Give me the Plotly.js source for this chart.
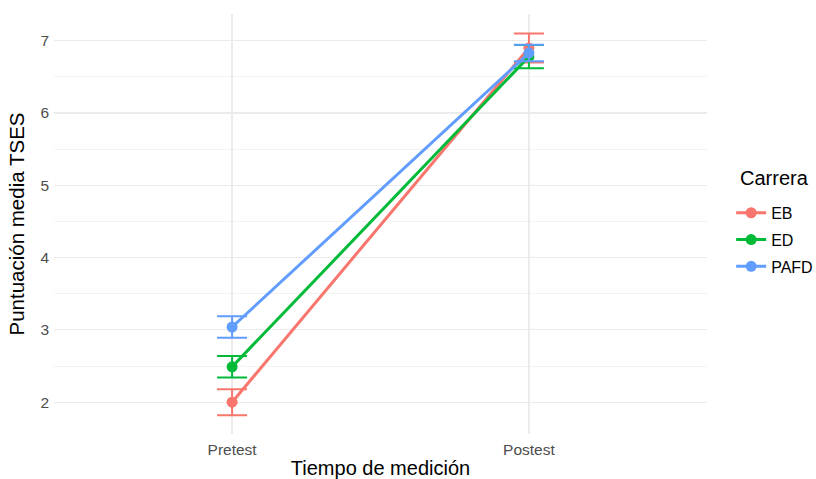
<!DOCTYPE html>
<html>
<head>
<meta charset="utf-8">
<script src="https://cdn.plot.ly/plotly-3.0.1.min.js"></script>
<style>html,body{margin:0;padding:0;background:#fff;}#chart{width:816px;height:479px;}</style>
</head>
<body>
<div id="chart"></div>
<script>
var tiempos = ["Pretest", "Postest"];
var grupos = ["EB", "ED", "PAFD"];
var medias = {
  EB:   [2.00, 6.90],
  ED:   [2.49, 6.78],
  PAFD: [3.04, 6.83]
};
var errores = {
  EB:   [0.18, 0.20],
  ED:   [0.15, 0.16],
  PAFD: [0.15, 0.115]
};
var colores = ["#F8766D", "#00BA38", "#619CFF"];

var traces = grupos.map(function(g, i) {
  return {
    type: "scatter",
    mode: "lines+markers",
    name: g,
    legendgroup: g,
    x: tiempos.map(function(t, k){ return k; }),
    y: medias[g],
    line: {color: colores[i], width: 3},
    marker: {color: colores[i], size: 11},
    error_y: {type: "data", array: errores[g], visible: true, color: colores[i], thickness: 2, width: 15}
  };
});

var layout = {
  width: 816, height: 479,
  margin: {l: 54, r: 109, t: 14, b: 45, autoexpand: false},
  paper_bgcolor: "#fff", plot_bgcolor: "#fff",
  font: {family: "Liberation Sans, Arial, sans-serif"},
  xaxis: {
    range: [-0.6, 1.6],
    tickvals: [0, 1], ticktext: tiempos,
    showgrid: true, gridcolor: "#EBEBEB", gridwidth: 1.2,
    zeroline: false, showline: false, ticks: "",
    tickfont: {size: 15.5, color: "#4D4D4D"},
    ticklabelstandoff: 4,
    title: {text: "Tiempo de medición", font: {size: 20, color: "#000"}, standoff: 5}
  },
  yaxis: {
    range: [1.56, 7.37],
    tickvals: [2, 3, 4, 5, 6, 7],
    showgrid: true, gridcolor: "#EBEBEB", gridwidth: 1.2,
    minor: {tickvals: [2.5, 3.5, 4.5, 5.5, 6.5], showgrid: true, gridcolor: "#F3F3F3", gridwidth: 1},
    zeroline: false, showline: false, ticks: "",
    tickfont: {size: 15.5, color: "#4D4D4D"},
    ticklabelstandoff: 4,
    title: {text: "Puntuación media TSES", font: {size: 20.5, color: "#000"}, standoff: 10}
  },
  showlegend: true,
  legend: {
    x: 1.037, y: 0.567, xanchor: "left", yanchor: "top",
    font: {size: 16, color: "#000"},
    tracegroupgap: 3
  },
  annotations: [{
    xref: "paper", yref: "paper", x: 1.0475, y: 0.6095,
    xanchor: "left", yanchor: "middle", showarrow: false,
    text: "Carrera", font: {size: 20, color: "#000"}
  }]
};

Plotly.newPlot("chart", traces, layout, {displayModeBar: false, staticPlot: true});
</script>
</body>
</html>
